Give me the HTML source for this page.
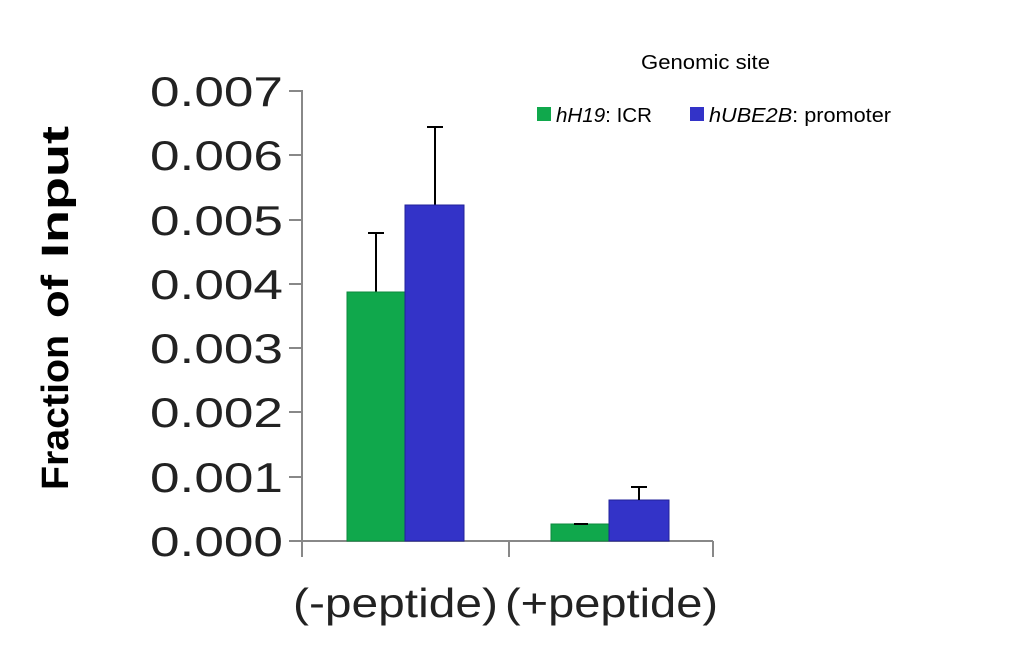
<!DOCTYPE html><html><head><style>body{margin:0;background:#fff}svg{display:block}</style></head><body>
<svg width="1022" height="664" xmlns="http://www.w3.org/2000/svg" font-family="Liberation Sans, sans-serif">
<rect width="1022" height="664" fill="#fff"/>
<g stroke="#888" stroke-width="2" fill="none">
<line x1="302" y1="90" x2="302" y2="557"/>
<line x1="302" y1="541" x2="713" y2="541"/>
<line x1="289" y1="91" x2="302" y2="91"/>
<line x1="289" y1="155" x2="302" y2="155"/>
<line x1="289" y1="220" x2="302" y2="220"/>
<line x1="289" y1="284" x2="302" y2="284"/>
<line x1="289" y1="348" x2="302" y2="348"/>
<line x1="289" y1="412" x2="302" y2="412"/>
<line x1="289" y1="477" x2="302" y2="477"/>
<line x1="289" y1="541" x2="302" y2="541"/>
<line x1="509" y1="541" x2="509" y2="557"/>
<line x1="713" y1="541" x2="713" y2="557"/>
</g>
<g font-size="42" fill="#222">
<text x="150" y="106" textLength="133" lengthAdjust="spacingAndGlyphs">0.007</text>
<text x="150" y="170" textLength="133" lengthAdjust="spacingAndGlyphs">0.006</text>
<text x="150" y="235" textLength="133" lengthAdjust="spacingAndGlyphs">0.005</text>
<text x="150" y="299" textLength="133" lengthAdjust="spacingAndGlyphs">0.004</text>
<text x="150" y="363" textLength="133" lengthAdjust="spacingAndGlyphs">0.003</text>
<text x="150" y="427" textLength="133" lengthAdjust="spacingAndGlyphs">0.002</text>
<text x="150" y="492" textLength="133" lengthAdjust="spacingAndGlyphs">0.001</text>
<text x="150" y="556" textLength="133" lengthAdjust="spacingAndGlyphs">0.000</text>
</g>
<g transform="translate(68,490) rotate(-90)" font-size="38" font-weight="bold" fill="#000">
<text x="0" y="0" textLength="155" lengthAdjust="spacingAndGlyphs">Fraction</text>
<text x="172" y="0" textLength="43" lengthAdjust="spacingAndGlyphs">of</text>
<text x="232" y="0" textLength="132" lengthAdjust="spacingAndGlyphs">Input</text>
</g>
<g stroke="#000" stroke-width="2">
<line x1="376" y1="292" x2="376" y2="233"/><line x1="368" y1="233" x2="384" y2="233"/>
<line x1="435" y1="205" x2="435" y2="127"/><line x1="427" y1="127" x2="443" y2="127"/>
<line x1="639" y1="500" x2="639" y2="487"/><line x1="631" y1="487" x2="647" y2="487"/>
</g>
<rect x="347" y="292" width="58" height="249" fill="#10a84c" stroke="#0c8a3e"/>
<rect x="405" y="205" width="59" height="336" fill="#3333c8" stroke="#22229a"/>
<rect x="551" y="524" width="58" height="17" fill="#10a84c" stroke="#0c8a3e"/>
<rect x="609" y="500" width="60" height="41" fill="#3333c8" stroke="#22229a"/>
<line x1="574" y1="524" x2="588" y2="524" stroke="#000" stroke-width="2"/>
<line x1="639" y1="500" x2="639" y2="487" stroke="#000" stroke-width="2"/>
<g font-size="41" fill="#222">
<text x="293" y="617" textLength="205" lengthAdjust="spacingAndGlyphs">(-peptide)</text>
<text x="505" y="617" textLength="213" lengthAdjust="spacingAndGlyphs">(+peptide)</text>
</g>
<text x="641" y="69" font-size="20" fill="#000" textLength="129" lengthAdjust="spacingAndGlyphs">Genomic site</text>
<rect x="537" y="107" width="14" height="14" fill="#10a84c"/>
<text x="556" y="122" font-size="20" fill="#000" textLength="96" lengthAdjust="spacingAndGlyphs"><tspan font-style="italic">hH19</tspan>: ICR</text>
<rect x="690" y="107" width="14" height="14" fill="#3333c8"/>
<text x="709" y="122" font-size="20" fill="#000" textLength="182" lengthAdjust="spacingAndGlyphs"><tspan font-style="italic">hUBE2B</tspan>: promoter</text>
</svg>
</body></html>
